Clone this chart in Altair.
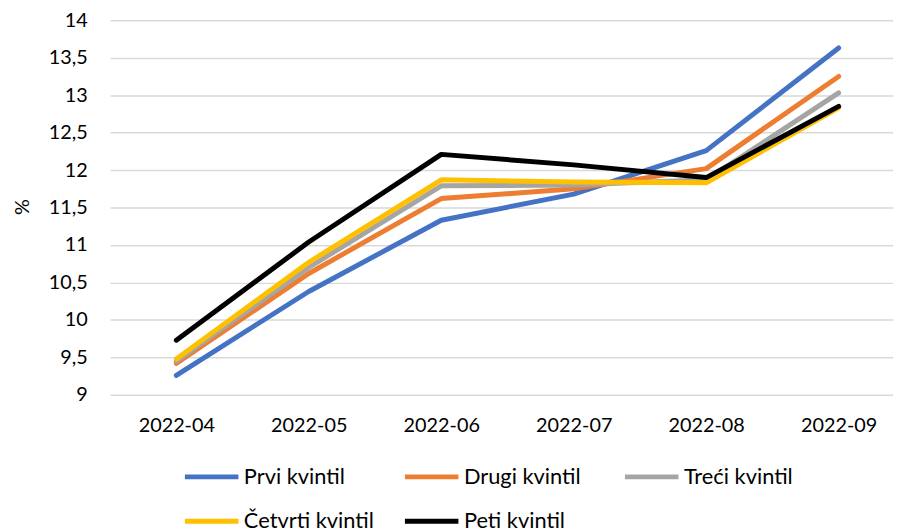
import altair as alt
import pandas as pd

months = ["2022-04", "2022-05", "2022-06", "2022-07", "2022-08", "2022-09"]
series_names = ["Prvi kvintil", "Drugi kvintil", "Treći kvintil", "Četvrti kvintil", "Peti kvintil"]
prvi = [9.26, 10.38, 11.33, 11.68, 12.26, 13.63]
drugi = [9.42, 10.62, 11.62, 11.75, 12.02, 13.25]
treci = [9.45, 10.70, 11.79, 11.80, 11.87, 13.03]
cetvrti = [9.48, 10.77, 11.87, 11.84, 11.83, 12.83]
peti = [9.73, 11.04, 12.21, 12.07, 11.90, 12.85]
colors = ["#4472C4", "#ED7D31", "#A5A5A5", "#FFC000", "#000000"]
y_ticks = [9, 9.5, 10, 10.5, 11, 11.5, 12, 12.5, 13, 13.5, 14]

rows = []
for name, vals in zip(series_names, [prvi, drugi, treci, cetvrti, peti]):
    for m, v in zip(months, vals):
        rows.append({"mjesec": m, "vrijednost": v, "serija": name})
df = pd.DataFrame(rows)

FONT = "Lato"

chart = alt.Chart(df).mark_line(
    strokeWidth=5, strokeCap="round", strokeJoin="round"
).encode(
    x=alt.X("mjesec:O", sort=months,
            scale=alt.Scale(type="point", padding=0.5, range=[0, 802]),
            axis=alt.Axis(title=None, labelAngle=0, domain=False, ticks=False,
                          labelPadding=21, labelFontSize=20, labelFont=FONT,
                          labelColor="#000000", grid=False)),
    y=alt.Y("vrijednost:Q",
            scale=alt.Scale(domain=[9, 14], nice=False, zero=False),
            axis=alt.Axis(title="%", values=y_ticks, domain=False, ticks=False, tickSize=0,
                          labelPadding=23, labelFontSize=20, labelFont=FONT,
                          labelColor="#000000",
                          labelExpr="replace(toString(datum.value), '.', ',')",
                          gridColor="#D9D9D9", gridWidth=1.5,
                          titleFont=FONT, titleFontSize=20, titleFontWeight="normal",
                          titleColor="#000000", titleX=-88, titleY=188,
                          titleAlign="center", titleBaseline="middle", titleAngle=-90)),
    color=alt.Color("serija:N", sort=series_names,
                    scale=alt.Scale(domain=series_names, range=colors),
                    legend=alt.Legend(title=None, orient="none", legendX=73, legendY=431,
                                      direction="horizontal", columns=3,
                                      symbolType="stroke", symbolStrokeWidth=5,
                                      symbolSize=2916, labelFontSize=22, labelFont=FONT,
                                      labelColor="#000000", labelOffset=3,
                                      columnPadding=20, rowPadding=4, gridAlign="all",
                                      padding=0)),
).properties(
    width=790,
    height=378,
    background="#FFFFFF",
    padding={"left": 103, "top": 10, "right": 0, "bottom": 134},
    autosize=alt.AutoSizeParams(type="none"),
).configure_view(
    strokeWidth=0, stroke="transparent"
)

chart.save("out.html", embed_options={"renderer": "svg", "actions": False})
